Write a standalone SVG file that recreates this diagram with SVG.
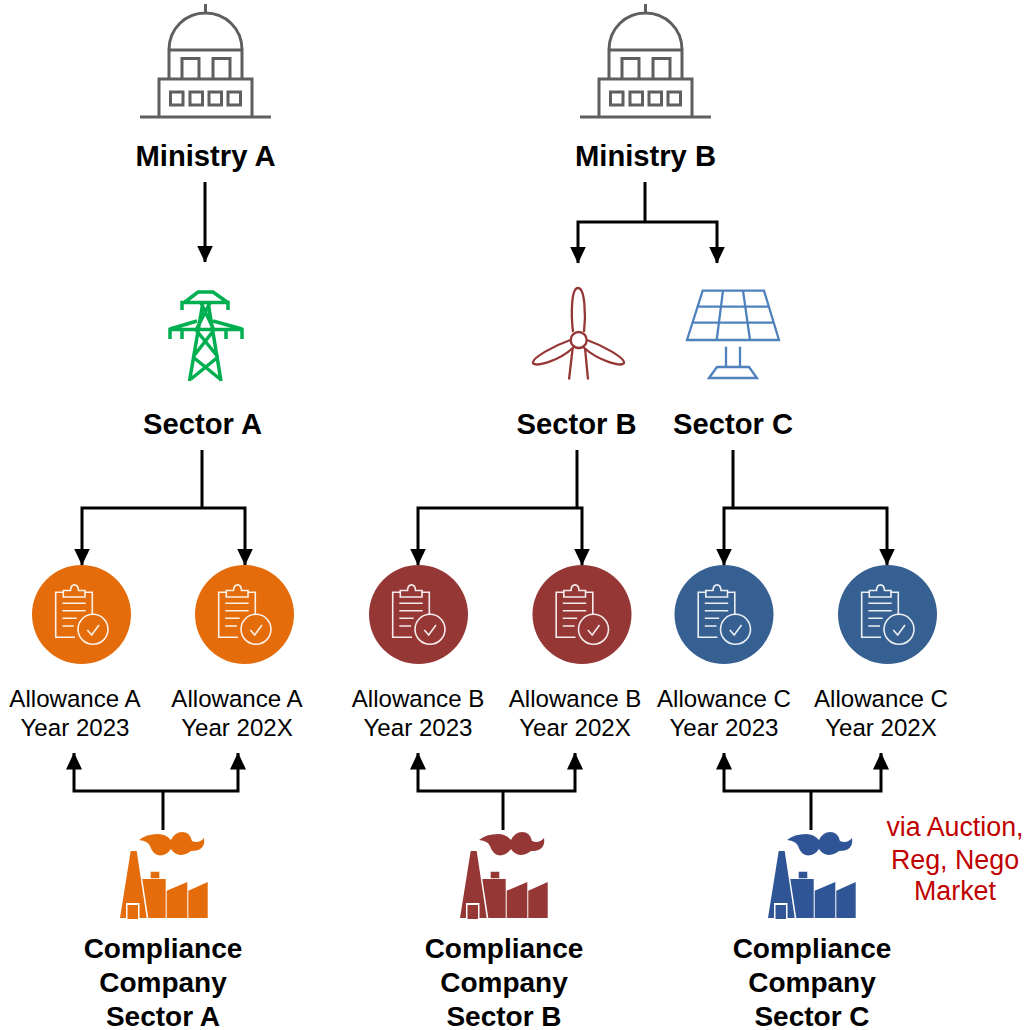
<svg xmlns="http://www.w3.org/2000/svg" width="1026" height="1030" viewBox="0 0 1026 1030">
<style>
text{font-family:"Liberation Sans",Arial,sans-serif;text-anchor:middle}
.b{font-weight:bold;font-size:29.200px;fill:#000}
.d{font-weight:bold;font-size:28px;fill:#000}
.a{font-size:24.100px;fill:#000}
.r{font-size:26.800px;fill:#C00000}
.c{fill:none;stroke:#000;stroke-width:3;stroke-linejoin:miter}
.m{fill:none;stroke:#5f5f5f;stroke-width:3}
.i{fill:none;stroke:#fff;stroke-opacity:.9;stroke-width:1.6}
</style>
<defs>
<marker id="ah" markerUnits="userSpaceOnUse" markerWidth="17" markerHeight="16" refX="16.500" refY="8" orient="auto"><path d="M0,0L17,8L0,16Z" fill="#000"/></marker>
<g id="ministry" class="m">
<path d="M140,117H271M159,117V79H252V117M169,79V50H242V79M169,50C169,28 186,13 205.500,13C225,13 242,28 242,50M205.500,4V13M182,79V58.500H199V79M213,79V58.500H230V79"/>
<rect x="170.500" y="92" width="12.500" height="13"/><rect x="190" y="92" width="12.500" height="13"/><rect x="209" y="92" width="12.500" height="13"/><rect x="228" y="92" width="12.500" height="13"/>
</g>
<g id="clip" class="i">
<path d="M63.300,592.300H55.700V637.300H75M85,592.300H92.300V615"/>
<path d="M63.300,597V590.500H70.500C71,583 78,583 78.500,590.500H85V597Z"/>
<path d="M62.300,603.300H85.700M62.300,610.700H85.700M62.300,618.300H76.700M62.300,626H74"/>
<circle cx="93" cy="629.300" r="15"/>
<path d="M87.300,630L91.700,635L99,625"/>
</g>
<g id="factory">
<path d="M120,918L130.700,851H136.700L146.700,918H139.500V903H126V918Z"/>
<rect x="127.500" y="905" width="10.500" height="14"/>
<path d="M142.300,879H165.700V918H148.300ZM150.700,871.700H159.300V878.300H150.700ZM166.700,890.700L187.300,882V918H166.700ZM188.300,890.700L207.700,882V918H188.300Z"/>
<path d="M139,840Q146,834 158,834Q166,834 171,840Q175,832 182,832Q190,832 192,841Q199,844 204,838Q206,851 191,851Q186,855 180,855Q174,854 171,849Q167,855 160,855.500Q153,855 150,846Q148,841 139,840Z"/>
</g>
</defs>

<g id="connectors">
<path class="c" d="M205,182V262" marker-end="url(#ah)"/>
<path class="c" d="M645,182V222"/>
<path class="c" d="M645,222H578V263" marker-end="url(#ah)"/>
<path class="c" d="M645,222H717V263" marker-end="url(#ah)"/>
<path class="c" d="M202,450V508"/>
<path class="c" d="M202,508H82V565" marker-end="url(#ah)"/>
<path class="c" d="M202,508H245V565" marker-end="url(#ah)"/>
<path class="c" d="M577,450V508"/>
<path class="c" d="M577,508H418V565" marker-end="url(#ah)"/>
<path class="c" d="M577,508H582V565" marker-end="url(#ah)"/>
<path class="c" d="M733,450V508"/>
<path class="c" d="M733,508H724V565" marker-end="url(#ah)"/>
<path class="c" d="M733,508H887V565" marker-end="url(#ah)"/>
<path class="c" d="M163,830V791"/>
<path class="c" d="M163,791H74V753" marker-end="url(#ah)"/>
<path class="c" d="M163,791H238V753" marker-end="url(#ah)"/>
<path class="c" d="M503,830V791"/>
<path class="c" d="M503,791H418V753" marker-end="url(#ah)"/>
<path class="c" d="M503,791H575V753" marker-end="url(#ah)"/>
<path class="c" d="M811,830V791"/>
<path class="c" d="M811,791H724V753" marker-end="url(#ah)"/>
<path class="c" d="M811,791H881V753" marker-end="url(#ah)"/>
</g>

<g id="ministry-a"><use href="#ministry"/><text class="b" x="205.500" y="166">Ministry A</text></g>
<g id="ministry-b"><use href="#ministry" x="440"/><text class="b" x="645.500" y="166">Ministry B</text></g>

<g id="sector-a">
<path fill="none" stroke="#00B050" stroke-width="3.500" d="M182,310V302.500H228V310M185,302L198,292H213L227,302M170,339V329.500H242V339M182,329.500V339M226,329.500V339M170,329L197,321M242,329L213,321M189.500,381L203,302M221,381L208,302M201,303L214,330M210,303L196,330M196,330L218,357M214,330L193,357M218,357L191,379M193,357L220,379"/>
<text class="b" x="202.500" y="434">Sector A</text>
</g>
<g id="sector-b">
<g fill="none" stroke="#953735" stroke-width="2.300">
<circle cx="578.700" cy="340" r="8"/>
<path d="M573,332C571,315 571,288 578,288C585,288 586,315 584,332"/>
<path d="M570.500,340C553,346 532,358 533,363C535,367 558,362 574,347"/>
<path d="M587,340C604,346 625,358 624,363C622,367 600,362 583,347"/>
<path d="M572.700,348L569,379.500M585,348L588,379.500"/>
</g>
<text class="b" x="576.500" y="434">Sector B</text>
</g>
<g id="sector-c">
<path fill="none" stroke="#4F81BD" stroke-width="2.300" d="M702.700,290.700H764L779,340H687ZM696.500,306.700H769M691.500,322.700H774M723,290.700L716.700,340M743,290.700L750,340M726,346.700V367M740,346.700V367M709,378L717,367H749L757,378Z"/>
<text class="b" x="733" y="434">Sector C</text>
</g>

<g id="allowance-a-2023"><circle cx="81.500" cy="614.500" r="49.500" fill="#E46C0A"/><use href="#clip"/><text class="a" x="75" y="707">Allowance A</text><text class="a" x="75" y="736">Year 2023</text></g>
<g id="allowance-a-202x"><circle cx="244.500" cy="614.500" r="49.500" fill="#E46C0A"/><use href="#clip" x="163"/><text class="a" x="237" y="707">Allowance A</text><text class="a" x="237" y="736">Year 202X</text></g>
<g id="allowance-b-2023"><circle cx="418.500" cy="614.500" r="49.500" fill="#953735"/><use href="#clip" x="337"/><text class="a" x="418" y="707">Allowance B</text><text class="a" x="418" y="736">Year 2023</text></g>
<g id="allowance-b-202x"><circle cx="582" cy="614.500" r="49.500" fill="#953735"/><use href="#clip" x="500.500"/><text class="a" x="575" y="707">Allowance B</text><text class="a" x="575" y="736">Year 202X</text></g>
<g id="allowance-c-2023"><circle cx="724" cy="614.500" r="49.500" fill="#376092"/><use href="#clip" x="642.500"/><text class="a" x="724" y="707">Allowance C</text><text class="a" x="724" y="736">Year 2023</text></g>
<g id="allowance-c-202x"><circle cx="887.500" cy="614.500" r="49.500" fill="#376092"/><use href="#clip" x="806"/><text class="a" x="881" y="707">Allowance C</text><text class="a" x="881" y="736">Year 202X</text></g>

<g id="company-a"><use href="#factory" fill="#E46C0A"/><text class="d" x="163" y="958">Compliance</text><text class="d" x="163" y="992">Company</text><text class="d" x="163" y="1026">Sector A</text></g>
<g id="company-b"><use href="#factory" x="340" fill="#953735"/><text class="d" x="504" y="958">Compliance</text><text class="d" x="504" y="992">Company</text><text class="d" x="504" y="1026">Sector B</text></g>
<g id="company-c"><use href="#factory" x="648" fill="#2F5597"/><text class="d" x="812" y="958">Compliance</text><text class="d" x="812" y="992">Company</text><text class="d" x="812" y="1026">Sector C</text></g>

<g id="note"><text class="r" x="955" y="836">via Auction,</text><text class="r" x="955" y="869">Reg, Nego</text><text class="r" x="955" y="900">Market</text></g>
</svg>
